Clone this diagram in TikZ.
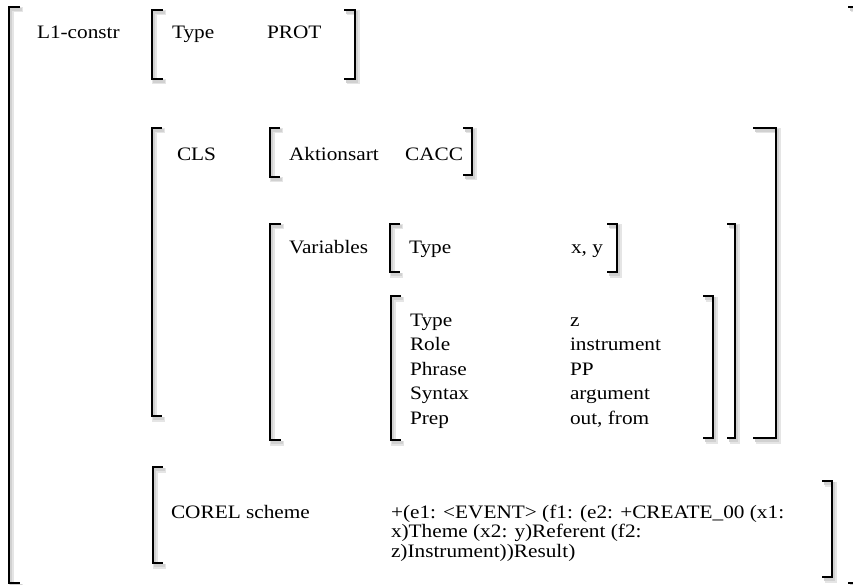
\documentclass[tikz,border=0pt]{standalone}
\usepackage{fontspec}
\setmainfont{Liberation Serif}[FakeStretch=1.12]
\newcommand\mylbr[4]{\draw[brk] ({#1+#4},#2) -- (#1,#2) -- (#1,#3) -- ({#1+#4},#3);}
\newcommand\myrbr[4]{\draw[brk] ({#1-#4},#2) -- (#1,#2) -- (#1,#3) -- ({#1-#4},#3);}
\begin{document}
\begin{tikzpicture}[x=1pt,y=-1pt,
  every node/.style={inner sep=0pt,outer sep=0pt,font=\fontsize{19}{23}\selectfont},
  txt/.style={anchor=base west},
  txtr/.style={anchor=base east},
  brk/.style={line width=1.7pt,line cap=butt,line join=miter,
    preaction={draw=black!10,line width=5pt,transform canvas={shift={(2.5pt,-3pt)}}},
    preaction={draw=black!18,line width=2.5pt,transform canvas={shift={(2pt,-2.5pt)}}}}]
\fill[white] (0,0) rectangle (853,585);
\useasboundingbox (0,0) rectangle (853,585);

% outer brackets
\mylbr{9}{7}{583}{11}
\myrbr{857}{7}{583}{9}
% Type PROT
\mylbr{152}{10}{79}{11}
\myrbr{355}{10}{79}{11}
% CLS
\mylbr{152}{128}{416}{10}
\myrbr{776}{128}{438}{23}
% Aktionsart
\mylbr{270}{128}{177}{10}
\myrbr{472}{128}{175}{9}
% Variables
\mylbr{270}{224}{440}{11}
\myrbr{735}{224}{438}{8}
% Type x, y
\mylbr{390}{224}{272}{10}
\myrbr{617}{224}{272}{10}
% table
\mylbr{391}{296}{440}{10}
\myrbr{713}{296}{438}{10}
% COREL
\mylbr{153}{467}{563}{10}
\myrbr{832}{481}{577}{10}

\node[txt] (l1) at (37,39) {L1-constr};
\node[txt] (t1) at (172,39) {Type};
\node[txt] (prot) at (267,39) {PROT};
\node[txt] (cls) at (177,161) {CLS};
\node[txt] (akt) at (289,161) {Aktionsart};
\node[txtr] (cacc) at (463,161) {CACC};
\node[txt] (var) at (289,253) {Variables};
\node[txt] (t2) at (409,253) {Type};
\node[txtr] (xy) at (603,253) {x, y};

\node[txt] (ka) at (410,326) {Type};
\node[txt] (kb) at (410,350.5) {Role};
\node[txt] (kc) at (410,375) {Phrase};
\node[txt] (kd) at (410,399.5) {Syntax};
\node[txt] (ke) at (410,424) {Prep};
\node[txt] (va) at (570,326) {z};
\node[txt] (vb) at (570,350.5) {instrument};
\node[txt] (vc) at (570,375) {PP};
\node[txt] (vd) at (570,399.5) {argument};
\node[txt] (ve) at (570,424) {out, from};

\node[txt] (corel) at (171,518) {COREL scheme};
\node[txt] (s1) at (391,518) {+(e1: <EVENT> (f1: (e2: +CREATE\_00 (x1:};
\node[txt] (s2) at (391,537.5) {x)Theme (x2: y)Referent (f2:};
\node[txt] (s3) at (391,557) {z)Instrument))Result)};
\end{tikzpicture}
\end{document}
